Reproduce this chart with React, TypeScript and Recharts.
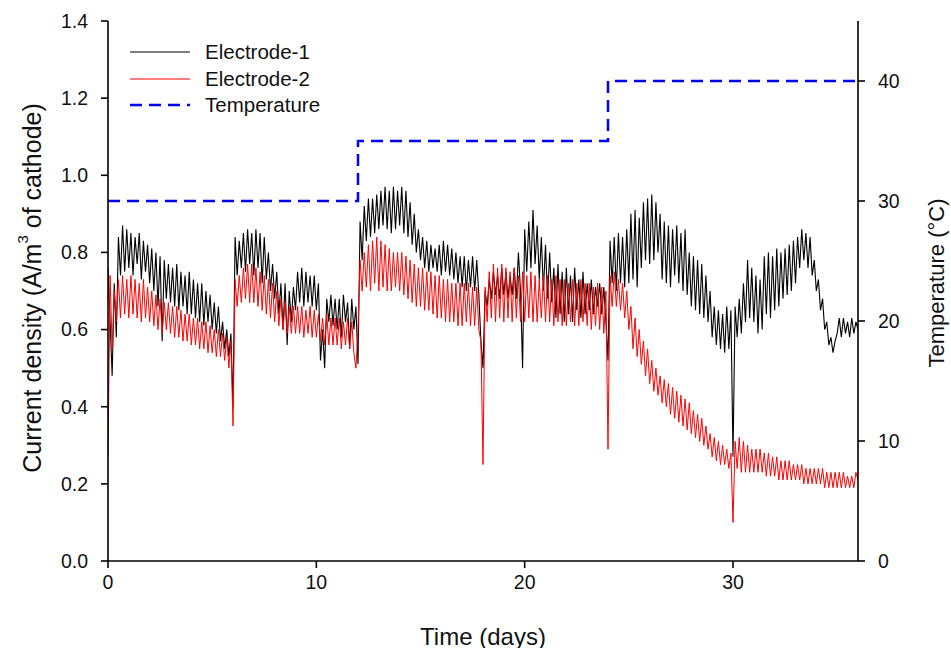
import React from 'react';
import { LineChart, Line, XAxis, YAxis, Legend, Label } from 'recharts';

// Readings are every 0.1 day (one row per day below, 10 readings per row)
const SAMPLE_STEP_DAYS = 0.1;

// Electrode-1 current density (A/m3 of cathode)
const electrode1: number[] = [
  0.76, 0.62, 0.48, 0.72, 0.58, 0.84, 0.74, 0.87, 0.75, 0.86, // day 0
  0.76, 0.85, 0.74, 0.84, 0.77, 0.85, 0.73, 0.83, 0.75, 0.82, // day 1
  0.72, 0.81, 0.70, 0.80, 0.66, 0.79, 0.57, 0.78, 0.68, 0.77, // day 2
  0.67, 0.76, 0.66, 0.77, 0.65, 0.75, 0.66, 0.74, 0.64, 0.75, // day 3
  0.64, 0.73, 0.63, 0.72, 0.62, 0.72, 0.61, 0.70, 0.62, 0.69, // day 4
  0.60, 0.67, 0.59, 0.66, 0.57, 0.62, 0.55, 0.60, 0.53, 0.59, // day 5
  0.40, 0.84, 0.74, 0.83, 0.76, 0.85, 0.75, 0.86, 0.77, 0.85, // day 6
  0.74, 0.86, 0.76, 0.85, 0.72, 0.84, 0.73, 0.80, 0.70, 0.77, // day 7
  0.68, 0.75, 0.64, 0.72, 0.60, 0.72, 0.56, 0.70, 0.62, 0.71, // day 8
  0.65, 0.75, 0.67, 0.76, 0.66, 0.75, 0.67, 0.74, 0.66, 0.74, // day 9
  0.65, 0.72, 0.52, 0.60, 0.50, 0.68, 0.62, 0.69, 0.61, 0.68, // day 10
  0.60, 0.68, 0.58, 0.69, 0.62, 0.67, 0.55, 0.68, 0.60, 0.66, // day 11
  0.51, 0.88, 0.78, 0.92, 0.83, 0.94, 0.84, 0.94, 0.85, 0.95, // day 12
  0.86, 0.96, 0.87, 0.97, 0.86, 0.96, 0.85, 0.97, 0.86, 0.96, // day 13
  0.87, 0.97, 0.85, 0.96, 0.84, 0.93, 0.82, 0.90, 0.80, 0.86, // day 14
  0.78, 0.84, 0.76, 0.83, 0.75, 0.82, 0.76, 0.81, 0.75, 0.82, // day 15
  0.74, 0.83, 0.75, 0.82, 0.74, 0.81, 0.73, 0.80, 0.72, 0.79, // day 16
  0.71, 0.79, 0.70, 0.78, 0.71, 0.79, 0.70, 0.78, 0.69, 0.57, // day 17
  0.50, 0.70, 0.66, 0.73, 0.68, 0.75, 0.69, 0.74, 0.68, 0.76, // day 18
  0.69, 0.75, 0.68, 0.74, 0.69, 0.76, 0.68, 0.80, 0.70, 0.50, // day 19
  0.86, 0.75, 0.88, 0.76, 0.91, 0.77, 0.87, 0.73, 0.84, 0.70, // day 20
  0.82, 0.68, 0.80, 0.67, 0.76, 0.63, 0.77, 0.64, 0.75, 0.62, // day 21
  0.76, 0.64, 0.74, 0.62, 0.76, 0.65, 0.73, 0.63, 0.75, 0.64, // day 22
  0.72, 0.65, 0.73, 0.64, 0.71, 0.66, 0.72, 0.64, 0.71, 0.62, // day 23
  0.52, 0.83, 0.72, 0.84, 0.70, 0.85, 0.72, 0.84, 0.71, 0.86, // day 24
  0.72, 0.90, 0.73, 0.91, 0.71, 0.89, 0.76, 0.93, 0.78, 0.94, // day 25
  0.77, 0.95, 0.78, 0.93, 0.80, 0.90, 0.73, 0.88, 0.72, 0.87, // day 26
  0.71, 0.86, 0.74, 0.87, 0.72, 0.85, 0.70, 0.86, 0.69, 0.80, // day 27
  0.66, 0.79, 0.65, 0.78, 0.64, 0.77, 0.63, 0.74, 0.62, 0.70, // day 28
  0.58, 0.66, 0.56, 0.65, 0.55, 0.64, 0.54, 0.66, 0.55, 0.65, // day 29
  0.27, 0.66, 0.58, 0.68, 0.59, 0.72, 0.62, 0.78, 0.63, 0.76, // day 30
  0.62, 0.74, 0.59, 0.73, 0.60, 0.79, 0.64, 0.80, 0.63, 0.79, // day 31
  0.65, 0.81, 0.66, 0.80, 0.68, 0.81, 0.69, 0.82, 0.70, 0.83, // day 32
  0.72, 0.84, 0.76, 0.86, 0.78, 0.85, 0.76, 0.84, 0.74, 0.78, // day 33
  0.70, 0.73, 0.65, 0.68, 0.60, 0.62, 0.56, 0.58, 0.54, 0.57, // day 34
  0.59, 0.63, 0.58, 0.63, 0.59, 0.62, 0.58, 0.63, 0.59, 0.62, // day 35
  0.60, // day 36
];

// Electrode-2 current density (A/m3 of cathode)
const electrode2: number[] = [
  0.27, 0.74, 0.55, 0.70, 0.62, 0.73, 0.63, 0.74, 0.64, 0.73, // day 0
  0.63, 0.74, 0.64, 0.73, 0.63, 0.72, 0.62, 0.73, 0.63, 0.71, // day 1
  0.62, 0.70, 0.61, 0.69, 0.60, 0.68, 0.59, 0.67, 0.60, 0.67, // day 2
  0.59, 0.66, 0.58, 0.66, 0.58, 0.65, 0.57, 0.64, 0.57, 0.64, // day 3
  0.56, 0.63, 0.56, 0.63, 0.55, 0.62, 0.55, 0.62, 0.54, 0.61, // day 4
  0.54, 0.60, 0.53, 0.60, 0.53, 0.59, 0.52, 0.58, 0.50, 0.57, // day 5
  0.35, 0.73, 0.66, 0.74, 0.67, 0.76, 0.68, 0.77, 0.67, 0.77, // day 6
  0.67, 0.76, 0.66, 0.75, 0.65, 0.74, 0.64, 0.73, 0.63, 0.72, // day 7
  0.62, 0.70, 0.61, 0.68, 0.60, 0.67, 0.59, 0.66, 0.59, 0.66, // day 8
  0.59, 0.66, 0.59, 0.66, 0.58, 0.65, 0.59, 0.66, 0.58, 0.65, // day 9
  0.58, 0.64, 0.57, 0.63, 0.56, 0.64, 0.56, 0.63, 0.56, 0.63, // day 10
  0.56, 0.63, 0.55, 0.62, 0.56, 0.63, 0.55, 0.62, 0.54, 0.50, // day 11
  0.60, 0.78, 0.70, 0.80, 0.71, 0.82, 0.70, 0.83, 0.72, 0.84, // day 12
  0.70, 0.83, 0.71, 0.82, 0.70, 0.81, 0.70, 0.80, 0.71, 0.80, // day 13
  0.70, 0.80, 0.69, 0.79, 0.68, 0.78, 0.67, 0.77, 0.66, 0.76, // day 14
  0.66, 0.76, 0.65, 0.75, 0.65, 0.75, 0.64, 0.74, 0.63, 0.74, // day 15
  0.63, 0.73, 0.62, 0.73, 0.62, 0.72, 0.62, 0.72, 0.61, 0.72, // day 16
  0.61, 0.72, 0.62, 0.72, 0.61, 0.71, 0.61, 0.71, 0.60, 0.57, // day 17
  0.25, 0.71, 0.62, 0.75, 0.63, 0.77, 0.62, 0.76, 0.63, 0.77, // day 18
  0.62, 0.76, 0.63, 0.75, 0.62, 0.76, 0.63, 0.74, 0.62, 0.75, // day 19
  0.62, 0.74, 0.63, 0.75, 0.62, 0.74, 0.62, 0.73, 0.63, 0.74, // day 20
  0.62, 0.74, 0.62, 0.73, 0.61, 0.74, 0.62, 0.73, 0.61, 0.73, // day 21
  0.61, 0.72, 0.62, 0.73, 0.61, 0.72, 0.61, 0.73, 0.62, 0.72, // day 22
  0.61, 0.72, 0.60, 0.71, 0.61, 0.72, 0.60, 0.71, 0.59, 0.70, // day 23
  0.29, 0.74, 0.66, 0.75, 0.66, 0.73, 0.65, 0.72, 0.63, 0.70, // day 24
  0.60, 0.66, 0.55, 0.63, 0.53, 0.60, 0.51, 0.57, 0.48, 0.55, // day 25
  0.46, 0.52, 0.44, 0.50, 0.43, 0.48, 0.41, 0.47, 0.40, 0.46, // day 26
  0.38, 0.45, 0.37, 0.44, 0.36, 0.43, 0.35, 0.42, 0.34, 0.41, // day 27
  0.33, 0.39, 0.32, 0.38, 0.31, 0.37, 0.30, 0.35, 0.29, 0.33, // day 28
  0.27, 0.32, 0.26, 0.31, 0.25, 0.30, 0.25, 0.29, 0.24, 0.28, // day 29
  0.10, 0.31, 0.24, 0.32, 0.23, 0.31, 0.23, 0.30, 0.23, 0.29, // day 30
  0.23, 0.29, 0.23, 0.29, 0.23, 0.28, 0.22, 0.28, 0.22, 0.27, // day 31
  0.22, 0.27, 0.21, 0.26, 0.21, 0.26, 0.21, 0.26, 0.21, 0.25, // day 32
  0.21, 0.25, 0.21, 0.25, 0.20, 0.24, 0.20, 0.24, 0.20, 0.24, // day 33
  0.20, 0.24, 0.20, 0.24, 0.19, 0.23, 0.19, 0.23, 0.19, 0.23, // day 34
  0.19, 0.23, 0.19, 0.23, 0.19, 0.22, 0.19, 0.22, 0.19, 0.23, // day 35
  0.21, // day 36
];

// Temperature set-points (°C) - step changes
const tempDays: number[] = [0, 12, 12, 24, 24, 36];
const tempValues: number[] = [30, 30, 35, 35, 40, 40];

// Tick labels
const timeTicks: number[] = [0, 10, 20, 30];
const currentTicks: number[] = [0, 0.2, 0.4, 0.6, 0.8, 1.0, 1.2, 1.4];
const tempTicks: number[] = [0, 10, 20, 30, 40];

const legendLabels: string[] = ['Electrode-1', 'Electrode-2', 'Temperature'];

const FONT = '"Liberation Sans", Arial, Helvetica, sans-serif';

const mainData = electrode1.map((v, i) => ({
  t: Math.round(i * SAMPLE_STEP_DAYS * 10) / 10,
  e1: v,
  e2: electrode2[i],
}));

const tempData = tempDays.map((d, i) => ({ t: d, temp: tempValues[i] }));

const LeftAxisLabel = (props: any) => {
  const vb = props.viewBox || {};
  const cx = vb.x + 12;
  const cy = vb.y + vb.height / 2 - 3;
  return (
    <text
      x={cx}
      y={cy}
      transform={`rotate(-90 ${cx} ${cy})`}
      textAnchor="middle"
      dominantBaseline="central"
      fontSize={25}
      fontFamily={FONT}
      fill="#111"
    >
      <tspan>Current density (A/m</tspan>
      <tspan fontSize={15} dy={-10}>3</tspan>
      <tspan dy={10}> of cathode)</tspan>
    </text>
  );
};

const RightAxisLabel = (props: any) => {
  const vb = props.viewBox || {};
  const cx = vb.x + 78;
  const cy = vb.y + vb.height / 2 - 8;
  return (
    <text
      x={cx}
      y={cy}
      transform={`rotate(-90 ${cx} ${cy})`}
      textAnchor="middle"
      dominantBaseline="central"
      fontSize={22}
      fontFamily={FONT}
      fill="#111"
    >
      Temperature (°C)
    </text>
  );
};

const BottomAxisLabel = (props: any) => {
  const vb = props.viewBox || {};
  const cx = vb.x + vb.width / 2;
  const cy = vb.y + 75;
  return (
    <text
      x={cx}
      y={cy}
      textAnchor="middle"
      dominantBaseline="central"
      fontSize={24}
      fontFamily={FONT}
      fill="#111"
    >
      Time (days)
    </text>
  );
};

const legendStyles = [
  { stroke: '#000000', width: 1.2, dash: undefined as string | undefined },
  { stroke: '#ff0000', width: 1.2, dash: undefined as string | undefined },
  { stroke: '#0000ff', width: 2.5, dash: '12 7' },
];

const LegendContent = () => (
  <div style={{ fontFamily: FONT, fontSize: 20.5, color: '#111' }}>
    {legendLabels.map((label, i) => (
      <div key={label} style={{ display: 'flex', alignItems: 'center', height: 26.5 }}>
        <svg width={60} height={8} style={{ marginRight: 15 }}>
          <line
            x1={0}
            y1={4}
            x2={60}
            y2={4}
            stroke={legendStyles[i].stroke}
            strokeWidth={legendStyles[i].width}
            strokeDasharray={legendStyles[i].dash}
          />
        </svg>
        <span>{label}</span>
      </div>
    ))}
  </div>
);

const tickStyle = { fontSize: 19.5, fontFamily: FONT, fill: '#111' };

export default function App() {
  return (
    <div style={{ position: 'absolute', left: 0, top: 0 }}>
      <LineChart
        width={951}
        height={648}
        data={mainData}
        margin={{ top: 21, right: 20, bottom: 5, left: 20 }}
      >
        <XAxis
          xAxisId="main"
          dataKey="t"
          type="number"
          domain={[0, 36]}
          ticks={timeTicks}
          allowDataOverflow
          height={82}
          tick={tickStyle}
          tickSize={7}
          tickMargin={7}
          axisLine={{ stroke: '#000', strokeWidth: 1.6 }}
          tickLine={{ stroke: '#000', strokeWidth: 1.6 }}
        >
          <Label content={BottomAxisLabel} />
        </XAxis>
        <XAxis
          xAxisId="frame"
          orientation="top"
          dataKey="t"
          type="number"
          domain={[0, 36]}
          allowDataOverflow
          height={0}
          tick={false}
          tickLine={false}
          axisLine={{ stroke: '#000', strokeWidth: 1.6 }}
        />
        <YAxis
          yAxisId="left"
          domain={[0, 1.4]}
          ticks={currentTicks}
          allowDataOverflow
          width={88}
          tick={tickStyle}
          tickFormatter={(v: number) => v.toFixed(1)}
          tickSize={7}
          tickMargin={13}
          axisLine={{ stroke: '#000', strokeWidth: 1.6 }}
          tickLine={{ stroke: '#000', strokeWidth: 1.6 }}
        >
          <Label content={LeftAxisLabel} />
        </YAxis>
        <YAxis
          yAxisId="right"
          orientation="right"
          domain={[0, 45]}
          ticks={tempTicks}
          allowDataOverflow
          width={73}
          tick={tickStyle}
          tickSize={7}
          tickMargin={13}
          axisLine={{ stroke: '#000', strokeWidth: 1.6 }}
          tickLine={{ stroke: '#000', strokeWidth: 1.6 }}
        >
          <Label content={RightAxisLabel} />
        </YAxis>
        <Legend
          layout="vertical"
          align="center"
          verticalAlign="middle"
          content={LegendContent}
          wrapperStyle={{ left: 130, top: 39, width: 'auto', height: 'auto' }}
        />
        <Line
          xAxisId="main"
          yAxisId="left"
          dataKey="e1"
          name="Electrode-1"
          type="linear"
          stroke="#000000"
          strokeWidth={1.1}
          dot={false}
          activeDot={false}
          isAnimationActive={false}
        />
        <Line
          xAxisId="main"
          yAxisId="left"
          dataKey="e2"
          name="Electrode-2"
          type="linear"
          stroke="#ff0000"
          strokeWidth={1}
          dot={false}
          activeDot={false}
          isAnimationActive={false}
        />
        <Line
          xAxisId="main"
          yAxisId="right"
          data={tempData}
          dataKey="temp"
          name="Temperature"
          type="linear"
          stroke="#0000ff"
          strokeWidth={2.5}
          strokeDasharray="12 7"
          dot={false}
          activeDot={false}
          isAnimationActive={false}
        />
      </LineChart>
    </div>
  );
}
